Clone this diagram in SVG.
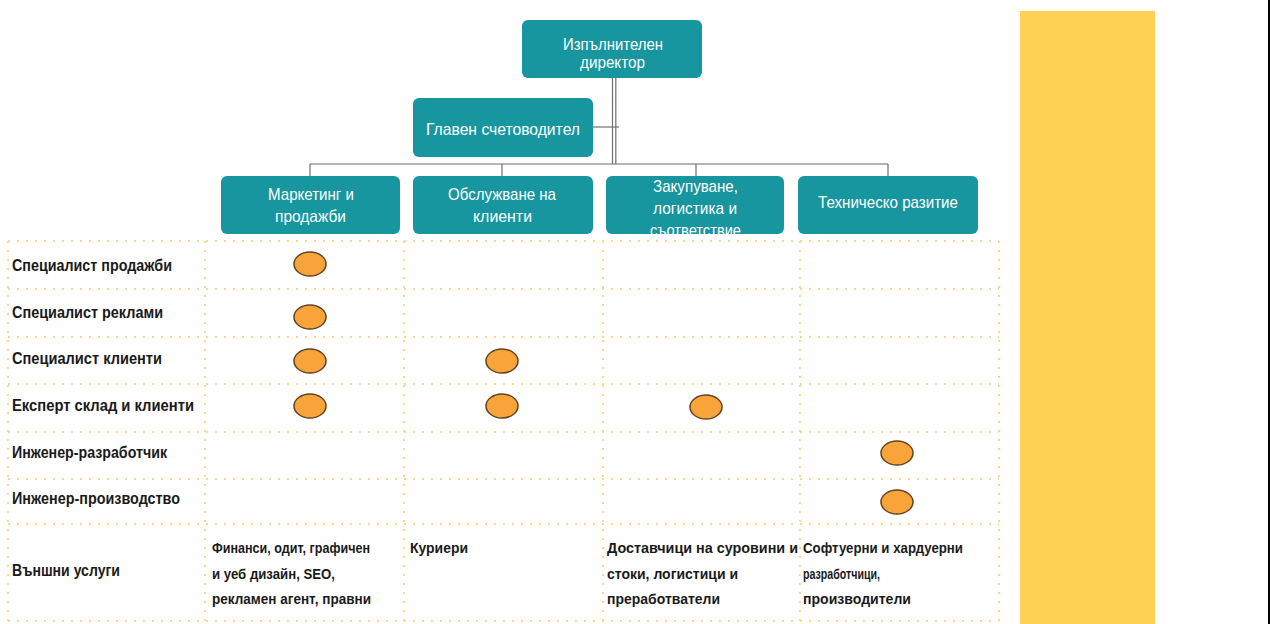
<svg xmlns="http://www.w3.org/2000/svg" width="1270" height="624" viewBox="0 0 1270 624">
<style>
.box{fill:#17969F}
.bt{font-family:"Liberation Sans",Arial,sans-serif;font-size:17px;fill:#fff}
.lb{font-family:"Liberation Sans",Arial,sans-serif;font-size:16px;font-weight:bold;fill:#1a1a1a}
.ct{font-family:"Liberation Sans",Arial,sans-serif;font-size:15px;font-weight:bold;fill:#1a1a1a}
.grid line{stroke:#F6D98E;stroke-width:2;stroke-dasharray:2 7}
.con line{stroke:#6f6f6f;stroke-width:1.2;fill:none}
.dot{fill:#F9A33B;stroke:#5e4420;stroke-width:1.5}
</style>
<rect width="1270" height="624" fill="#fff"/>
<rect x="1020" y="11" width="135" height="613" fill="#FED154"/>
<rect x="1268" y="0" width="2" height="624" fill="#000"/>

<g id="grid" class="grid">
<line x1="8" y1="241" x2="999" y2="241"/>
<line x1="8" y1="289" x2="999" y2="289"/>
<line x1="8" y1="337" x2="999" y2="337"/>
<line x1="8" y1="384" x2="999" y2="384"/>
<line x1="8" y1="432" x2="999" y2="432"/>
<line x1="8" y1="479" x2="999" y2="479"/>
<line x1="8" y1="524" x2="999" y2="524"/>
<line x1="8" y1="621" x2="999" y2="621"/>
<line x1="8" y1="241" x2="8" y2="621"/>
<line x1="205" y1="241" x2="205" y2="621"/>
<line x1="404" y1="241" x2="404" y2="621"/>
<line x1="603" y1="241" x2="603" y2="621"/>
<line x1="800" y1="241" x2="800" y2="621"/>
<line x1="999" y1="241" x2="999" y2="621"/>
</g>

<g id="connectors" class="con">
<line x1="612.5" y1="78" x2="612.5" y2="164"/>
<line x1="615.8" y1="78" x2="615.8" y2="164"/>
<line x1="593" y1="127" x2="619" y2="127"/>
<line x1="310" y1="164" x2="888" y2="164"/>
<line x1="310" y1="164" x2="310" y2="176"/>
<line x1="502" y1="164" x2="502" y2="176"/>
<line x1="696" y1="164" x2="696" y2="176"/>
<line x1="888" y1="164" x2="888" y2="176"/>
</g>

<g id="director">
<rect class="box" x="522" y="20" width="180" height="58" rx="6"/>
<text class="bt" x="563" y="50" textLength="100" lengthAdjust="spacingAndGlyphs">Изпълнителен</text>
<text class="bt" x="580" y="68" textLength="65" lengthAdjust="spacingAndGlyphs">директор</text>
</g>

<g id="accountant">
<rect class="box" x="413" y="98" width="180" height="59" rx="6"/>
<text class="bt" x="426" y="135" textLength="154" lengthAdjust="spacingAndGlyphs">Главен счетоводител</text>
</g>

<g id="marketing">
<rect class="box" x="221" y="176" width="179" height="58" rx="6"/>
<text class="bt" x="268" y="200" textLength="86" lengthAdjust="spacingAndGlyphs">Маркетинг и</text>
<text class="bt" x="275" y="222" textLength="71" lengthAdjust="spacingAndGlyphs">продажби</text>
</g>

<g id="customers">
<rect class="box" x="413" y="176" width="180" height="58" rx="6"/>
<text class="bt" x="448" y="200" textLength="108" lengthAdjust="spacingAndGlyphs">Обслужване на</text>
<text class="bt" x="473" y="222" textLength="59" lengthAdjust="spacingAndGlyphs">клиенти</text>
</g>

<g id="procurement">
<rect class="box" x="606" y="176" width="178" height="58" rx="6"/>
<text class="bt" x="653" y="192" textLength="85" lengthAdjust="spacingAndGlyphs">Закупуване,</text>
<text class="bt" x="653" y="214" textLength="84" lengthAdjust="spacingAndGlyphs">логистика и</text>
<text class="bt" x="650" y="236" textLength="91" lengthAdjust="spacingAndGlyphs">съответствие</text>
</g>

<g id="tech">
<rect class="box" x="798" y="176" width="180" height="58" rx="6"/>
<text class="bt" x="818" y="208" textLength="140" lengthAdjust="spacingAndGlyphs">Техническо разитие</text>
</g>

<g id="roles">
<text class="lb" x="12" y="271" textLength="160" lengthAdjust="spacingAndGlyphs">Специалист продажби</text>
<text class="lb" x="12" y="318" textLength="151" lengthAdjust="spacingAndGlyphs">Специалист реклами</text>
<text class="lb" x="12" y="364" textLength="150" lengthAdjust="spacingAndGlyphs">Специалист клиенти</text>
<text class="lb" x="12" y="411" textLength="182" lengthAdjust="spacingAndGlyphs">Експерт склад и клиенти</text>
<text class="lb" x="12" y="458" textLength="155" lengthAdjust="spacingAndGlyphs">Инженер-разработчик</text>
<text class="lb" x="12" y="504" textLength="168" lengthAdjust="spacingAndGlyphs">Инженер-производство</text>
<text class="lb" x="12" y="576" textLength="108" lengthAdjust="spacingAndGlyphs">Външни услуги</text>
</g>

<g id="marks">
<ellipse class="dot" cx="310" cy="264" rx="16" ry="12"/>
<ellipse class="dot" cx="310" cy="317" rx="16" ry="12"/>
<ellipse class="dot" cx="310" cy="361" rx="16" ry="12"/>
<ellipse class="dot" cx="310" cy="406" rx="16" ry="12"/>
<ellipse class="dot" cx="502" cy="361" rx="16" ry="12"/>
<ellipse class="dot" cx="502" cy="406" rx="16" ry="12"/>
<ellipse class="dot" cx="706" cy="407" rx="16" ry="12"/>
<ellipse class="dot" cx="897" cy="453" rx="16" ry="12"/>
<ellipse class="dot" cx="897" cy="502" rx="16" ry="12"/>
</g>

<g id="external">
<text class="ct" x="212" y="553" textLength="158" lengthAdjust="spacingAndGlyphs">Финанси, одит, графичен</text>
<text class="ct" x="212" y="579" textLength="123" lengthAdjust="spacingAndGlyphs">и уеб дизайн, SEO,</text>
<text class="ct" x="212" y="604" textLength="159" lengthAdjust="spacingAndGlyphs">рекламен агент, правни</text>
<text class="ct" x="410" y="553" textLength="58" lengthAdjust="spacingAndGlyphs">Куриери</text>
<text class="ct" x="607" y="553" textLength="191" lengthAdjust="spacingAndGlyphs">Доставчици на суровини и</text>
<text class="ct" x="607" y="579" textLength="131" lengthAdjust="spacingAndGlyphs">стоки, логистици и</text>
<text class="ct" x="607" y="604" textLength="113" lengthAdjust="spacingAndGlyphs">преработватели</text>
<text class="ct" x="803" y="553" textLength="160" lengthAdjust="spacingAndGlyphs">Софтуерни и хардуерни</text>
<text class="ct" x="803" y="579" textLength="77" lengthAdjust="spacingAndGlyphs">разработчици,</text>
<text class="ct" x="803" y="604" textLength="108" lengthAdjust="spacingAndGlyphs">производители</text>
</g>
</svg>
